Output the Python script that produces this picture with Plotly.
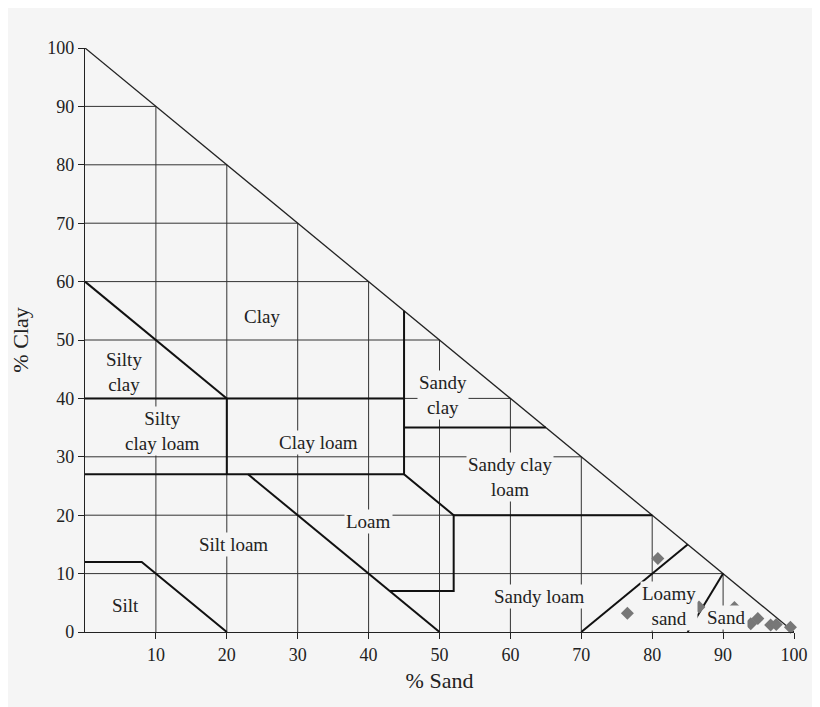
import plotly.graph_objects as go

# tick values shared by both axes
ticks = [0, 10, 20, 30, 40, 50, 60, 70, 80, 90, 100]

# texture class boundaries as (sand, clay) polylines
boundaries = [
    [(0, 60), (20, 40)],
    [(0, 40), (45, 40)],
    [(20, 40), (20, 27)],
    [(0, 27), (45, 27)],
    [(45, 55), (45, 27), (52, 20), (52, 7), (43, 7)],
    [(23, 27), (50, 0)],
    [(45, 35), (65, 35)],
    [(52, 20), (80, 20)],
    [(0, 12), (8, 12), (20, 0)],
    [(70, 0), (85, 15)],
    [(85, 0), (90, 10)],
]

# sample points (% sand, % clay)
sample_sand = [80.8, 76.5, 86.6, 91.6, 93.9, 94.9, 96.7, 97.5, 99.5]
sample_clay = [12.6, 3.2, 4.3, 4.2, 1.4, 2.3, 1.2, 1.3, 0.8]

# class labels
label_text = ["Clay", "Silty<br>clay", "Silty<br>clay loam", "Clay loam", "Sandy<br>clay",
              "Sandy clay<br>loam", "Loam", "Silt loam", "Silt", "Sandy loam", "Loamy<br>sand", "Sand"]
label_x = [25, 5.5, 11, 33, 50.5, 60, 40, 21, 5.7, 64, 82.3, 90.5]
label_y = [54, 44.5, 34.5, 32.5, 40.5, 26.5, 19, 15, 4.5, 6, 4.5, 2.5]

fig = go.Figure()

# grid inside the triangle
for t in ticks[1:-1]:
    fig.add_trace(go.Scatter(x=[t, t], y=[0, 100 - t], mode="lines",
                             line=dict(color="#333", width=1), showlegend=False, hoverinfo="skip"))
    fig.add_trace(go.Scatter(x=[0, 100 - t], y=[t, t], mode="lines",
                             line=dict(color="#333", width=1), showlegend=False, hoverinfo="skip"))
fig.add_trace(go.Scatter(x=[0, 100], y=[100, 0], mode="lines",
                         line=dict(color="#222", width=1.3), showlegend=False, hoverinfo="skip"))

for b in boundaries:
    fig.add_trace(go.Scatter(x=[p[0] for p in b], y=[p[1] for p in b], mode="lines",
                             line=dict(color="#111", width=2), showlegend=False, hoverinfo="skip"))

fig.add_trace(go.Scatter(x=sample_sand, y=sample_clay, mode="markers",
                         marker=dict(symbol="diamond", size=10, color="#777"),
                         showlegend=False, cliponaxis=False))

for t, x, y in zip(label_text, label_x, label_y):
    fig.add_annotation(x=x, y=y, text=t, showarrow=False, bgcolor="#f5f5f5",
                       borderpad=1, font=dict(size=19, color="#222"))

fig.update_layout(
    width=820, height=707,
    margin=dict(l=77, r=34, t=40, b=83),
    paper_bgcolor="#f5f5f5", plot_bgcolor="#f5f5f5",
    font=dict(family="Liberation Serif, DejaVu Serif, serif", size=18, color="#222"),
)
fig.update_xaxes(range=[0, 100], tickvals=ticks[1:], showgrid=False, zeroline=False,
                 showline=True, linecolor="#222", linewidth=1.3, ticks="outside",
                 ticklen=6, tickcolor="#222", title_text="% Sand", title_standoff=8)
fig.update_yaxes(range=[0, 100], tickvals=ticks, showgrid=False, zeroline=False,
                 showline=True, linecolor="#222", linewidth=1.3, ticks="outside",
                 ticklen=6, tickcolor="#222", title_text="% Clay", title_standoff=12)

fig.write_html("out.html")
